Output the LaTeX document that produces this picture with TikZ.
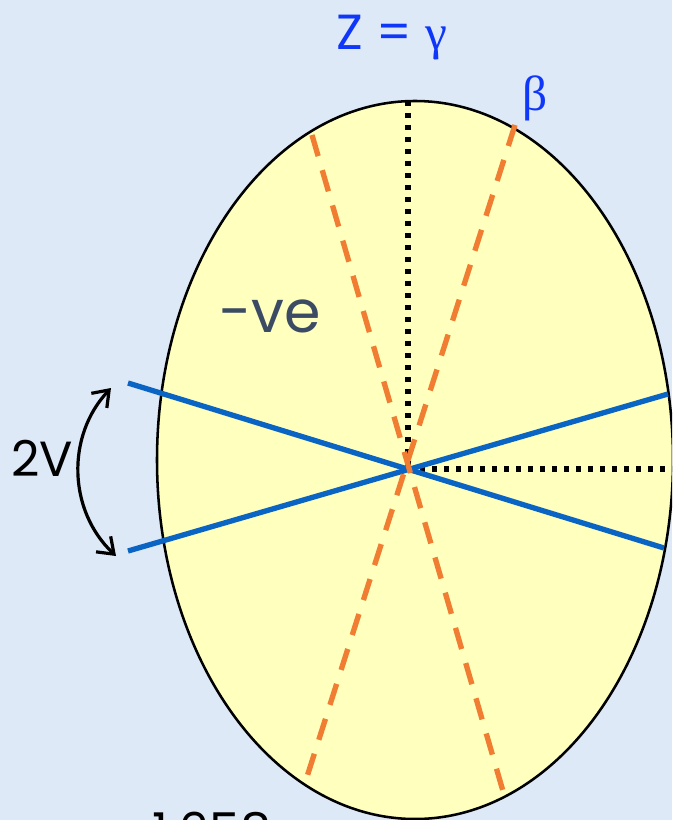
\documentclass[tikz,border=0pt]{standalone}
\usepackage{fontspec}
\setmainfont{Poppins}
\newfontfamily\greekfont{Liberation Serif}
\usetikzlibrary{arrows.meta}
\definecolor{bgblue}{RGB}{221,233,246}
\definecolor{indicatrix}{RGB}{255,255,190}
\definecolor{axisblue}{RGB}{10,100,195}
\definecolor{planeorange}{RGB}{240,125,50}
\definecolor{labelblue}{RGB}{15,55,250}
\definecolor{signgrey}{RGB}{60,75,100}

\begin{document}
\begin{tikzpicture}[
        x=0.75pt, y=-0.75pt,
        % outline of the indicatrix
        ellipse_body/.style={
            fill=indicatrix,
            draw=black,
            line width=1.9pt
        },
        % optic axes
        optic_axis/.style={
            draw=axisblue,
            line width=4pt
        },
        % traces of the planes
        plane_trace/.style={
            draw=planeorange,
            line width=4pt,
            dash pattern=on 16.5pt off 11pt
        },
        % principal axes
        principal_axis/.style={
            draw=black,
            line width=4pt,
            dash pattern=on 4pt off 5pt
        },
        big_label/.style={
            inner sep=0pt,
            font=\fontsize{37}{40}\selectfont
        }
    ]

    % 1. Background and frame
    \fill[bgblue] (0,0) rectangle (672,820);
    \useasboundingbox (0,0) rectangle (672,820);
    \clip (0,0) rectangle (672,820);

    % 2. Indicatrix section
    \draw[ellipse_body] (415,460) ellipse [x radius=258, y radius=359];

    \coordinate (centre) at (408,469);
    \coordinate (top_end) at (408,101);
    \coordinate (right_end) at (680,469);

    % 3. Principal axes (dotted)
    \draw[principal_axis] (top_end) -- (centre);
    \draw[principal_axis] (centre) -- (right_end);

    % 4. Optic axes
    \coordinate (oa1_start) at (128,383);
    \coordinate (oa1_end) at (664,548);
    \coordinate (oa2_start) at (128,551);
    \coordinate (oa2_end) at (668,394);
    \draw[optic_axis] (oa1_start) -- (oa1_end);
    \draw[optic_axis] (oa2_start) -- (oa2_end);

    % 5. Plane traces (dashed)
    \coordinate (pa_top) at (312,135);
    \coordinate (pa_bottom) at (505,798);
    \coordinate (pb_top) at (515,125);
    \coordinate (pb_bottom) at (305,783);
    \draw[plane_trace] (pa_top) -- (pa_bottom);
    \draw[plane_trace] (pb_top) -- (pb_bottom);

    % 6. Labels
    \node[big_label, text=labelblue] (z_label) at (392,38) {Z = {\greekfont γ}};
    \node[big_label, text=labelblue] (beta_label) at (535,98) {\greekfont β};
    \node[big_label, text=signgrey, font=\fontsize{44}{48}\selectfont] (sign_label) at (270,316) {-ve};
    \node[big_label] (twov_label) at (42,458) {2V};
    \node[big_label, anchor=north] (index_label) at (212,812) {1.658};

    % 7. Angle between optic axes
    \coordinate (arc_top) at (111,388);
    \coordinate (arc_bottom) at (116,556);
    \draw[{Straight Barb[length=11pt,width=16pt]}-{Straight Barb[length=11pt,width=16pt]}, line width=2.4pt]
        (arc_top) to[bend right=45] (arc_bottom);

\end{tikzpicture}
\end{document}
